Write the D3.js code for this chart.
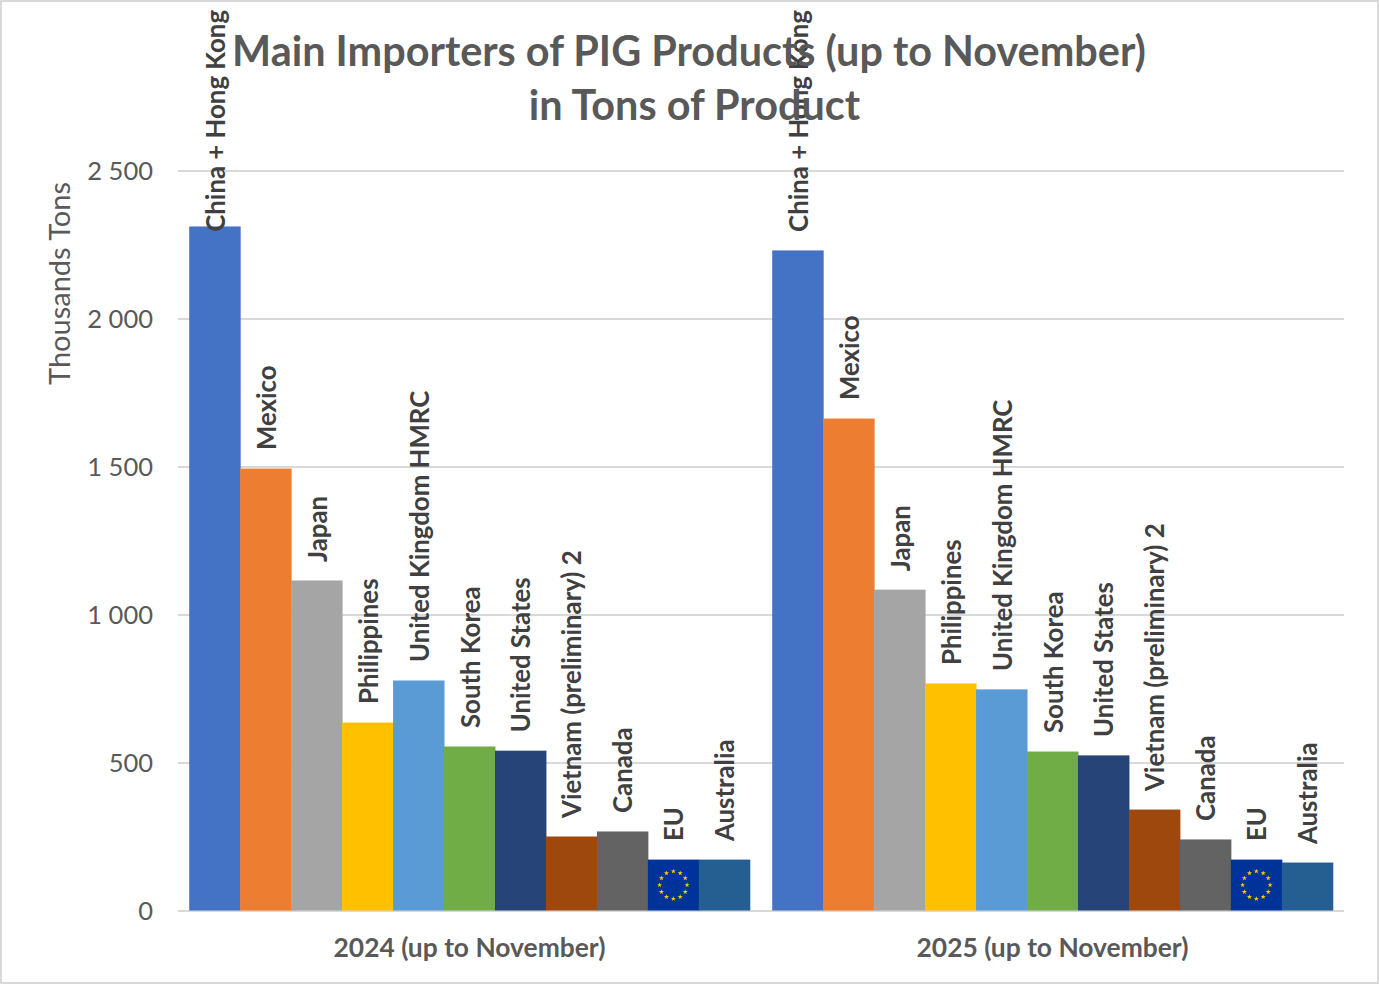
<!DOCTYPE html>
<html><head><meta charset="utf-8">
<script src="https://cdnjs.cloudflare.com/ajax/libs/d3/7.8.5/d3.min.js"></script>
<style>html,body{margin:0;padding:0;background:#fff}svg{display:block;font-family:Lato,"Open Sans",sans-serif}</style>
</head><body><svg id="c" width="1379" height="984"></svg>
<script>
const periods = ["2024 (up to November)", "2025 (up to November)"];
const countries = ["China + Hong Kong","Mexico","Japan","Philippines","United Kingdom HMRC","South Korea","United States","Vietnam (preliminary) 2","Canada","EU","Australia"];
const colours = ["#4472c4","#ed7d31","#a5a5a5","#ffc000","#5b9bd5","#70ad47","#264478","#9e480e","#636363","#003399","#255e91"];
const values2024 = [2311,1493,1115,635,777,554,540,250,267,172,172];
const values2025 = [2230,1662,1084,767,747,537,524,341,240,172,162];
const yTicks = [0,500,1000,1500,2000,2500];
const titleLines = ["Main Importers of PIG Products (up to November)","in Tons of Product"];
const seriesByPeriod = [values2024, values2025];

const svg = d3.select("#c");
const m = {l:178, r:1344, t:170.5, b:910.5};
const y = d3.scaleLinear().domain([0,2500]).range([m.b,m.t]);
const x0 = d3.scaleBand().domain(periods).range([m.l,m.r]).paddingInner(0).paddingOuter(0);
const x1 = d3.scaleBand().domain(countries).range([0,x0.bandwidth()]).paddingOuter(0.22).paddingInner(0);
const fmt = v => v>=1000 ? Math.floor(v/1000)+" "+String(v%1000).padStart(3,"0") : String(v);

svg.append("rect").attr("x",1).attr("y",1).attr("width",1377).attr("height",982).attr("fill","#fff").attr("stroke","#d9d9d9").attr("stroke-width",2);

const axisY = d3.axisLeft(y).tickValues(yTicks).tickSize(-(m.r-m.l)).tickFormat(fmt).tickPadding(26);
const gy = svg.append("g").attr("transform",`translate(${m.l},0)`).call(axisY);
gy.select(".domain").remove();
gy.selectAll("line").attr("stroke","#d9d9d9").attr("stroke-width",2);
gy.selectAll("text").attr("fill","#595959").attr("font-size",25.5).attr("font-family","Lato").attr("dx",1).attr("dy","0.36em");

svg.append("text").attr("transform",`translate(70,${(182+385)/2}) rotate(-90)`).attr("text-anchor","middle")
  .attr("fill","#595959").attr("font-size",29).text("Thousands Tons");

const groups = svg.selectAll("g.period").data(periods).join("g").attr("class","period")
  .attr("transform",d=>`translate(${x0(d)},0)`);

groups.each(function(p,pi){
  const g = d3.select(this);
  const rows = countries.map((c,i)=>({c,i,v:seriesByPeriod[pi][i]}));
  g.selectAll("rect.bar").data(rows).join("rect").attr("class","bar")
    .attr("x",d=>x1(d.c)).attr("y",d=>y(d.v)).attr("width",x1.bandwidth()+0.5)
    .attr("height",d=>y(0)-y(d.v)).attr("fill",d=>colours[d.i]);
  // EU flag stars
  const eu = rows.find(d=>d.c==="EU");
  const cx = x1("EU")+x1.bandwidth()/2, cy=(y(eu.v)+y(0))/2;
  const r = (y(0)-y(eu.v))*0.27;
  g.selectAll("path.star").data(d3.range(12)).join("path").attr("class","star")
    .attr("d",d3.symbol(d3.symbolStar,8))
    .attr("fill","#ffcc00")
    .attr("transform",k=>{const a=k*Math.PI/6;return `translate(${cx+r*Math.sin(a)},${cy-r*Math.cos(a)})`;});
  const labels = g.selectAll("text.lab").data(rows).join("text").attr("class","lab")
    .attr("text-anchor","start").attr("font-weight",700).attr("font-size",25.8).attr("fill","#404040")
    .text(d=>d.c);
  labels.attr("transform",function(d){
    const len=this.getComputedTextLength();
    const base=Math.max(y(d.v)-18.5,10+len);
    return `translate(${x1(d.c)+x1.bandwidth()/2+10},${base}) rotate(-90)`;
  });
  g.append("text").attr("x",x0.bandwidth()/2).attr("y",957).attr("text-anchor","middle")
    .attr("font-weight",700).attr("font-size",26.4).attr("fill","#595959").text(p);
});

svg.selectAll("text.title").data(titleLines).join("text").attr("class","title")
  .attr("x",(d,i)=>689+i*5.5).attr("y",(d,i)=>66+i*54).attr("text-anchor","middle")
  .attr("font-weight",700).attr("font-size",41.4).attr("fill","#595959").text(d=>d);
</script></body></html>
